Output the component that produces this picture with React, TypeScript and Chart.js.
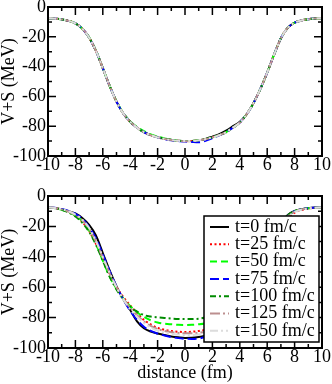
import React, { useEffect, useRef } from 'react';
import { Chart, registerables } from 'chart.js';

Chart.register(...registerables);

const FONT = '"Liberation Serif", "Times New Roman", serif';

// x positions (fm)
const distance = [
  -10, -9.5, -9, -8.5, -8, -7.5, -7, -6.5, -6, -5.5, -5, -4.5, -4, -3.5, -3, -2.5, -2, -1.5, -1, -0.5,
  0, 0.5, 1, 1.5, 2, 2.5, 3, 3.5, 4, 4.5, 5, 5.5, 6, 6.5, 7, 7.5, 8, 8.5, 9, 9.5, 10,
];

const seriesLabels = ['t=0 fm/c', 't=25 fm/c', 't=50 fm/c', 't=75 fm/c', 't=100 fm/c', 't=125 fm/c', 't=150 fm/c'];

// ---- top panel (MeV) ----
const topT0 = [-7.5, -7.8, -8.3, -9.3, -11, -14.5, -20.5, -29.5, -41, -53, -63.5, -71.5, -77, -81, -84, -86, -87.5, -88.5, -89.3, -89.8,
  -90, -89.9, -89.4, -88.5, -87, -85.3, -83, -80, -77, -72, -64.5, -55, -44, -32, -21, -14, -10.5, -9, -8.2, -7.7, -7.5];
const topT25 = [-7.5, -7.8, -8.3, -9.3, -11, -14.5, -20.5, -29.5, -41, -53, -63.5, -71.5, -77, -81, -84, -86, -87.5, -88.5, -89.3, -89.8,
  -90, -89.9, -89.4, -88.7, -87.5, -86, -84, -81, -77.5, -72, -64.5, -55, -44, -32, -21, -14, -10.5, -9, -8.2, -7.7, -7.5];
const topT50 = [-7.5, -7.8, -8.3, -9.3, -11, -14.5, -20.3, -29.3, -41, -53, -63.3, -71.3, -76.7, -80.5, -83.3, -85.5, -87, -88.2, -89.2, -89.7,
  -90, -89.9, -89.4, -88.7, -87.5, -86, -84, -81, -77.5, -72, -64.5, -55, -44, -32, -21, -14, -10.5, -9, -8.2, -7.7, -7.5];
const topT75 = [-7.4, -7.8, -8.3, -9.3, -11, -14.5, -20.5, -29.5, -41, -53, -63.5, -71.5, -77, -81, -84, -86, -87.5, -88.6, -89.5, -90,
  -90.3, -90.6, -90.8, -89.8, -88, -86.2, -84, -81, -77.5, -72, -64.5, -55, -44, -32, -21, -14, -10.5, -9, -8.2, -7.7, -7.5];
const topT100 = [-7.5, -7.8, -8.3, -9.3, -11, -14.5, -20.5, -29.5, -41, -53, -63.5, -71.5, -77, -81, -84, -86, -87.2, -88.3, -89, -89.7,
  -90, -89.9, -89.4, -88.7, -87.5, -86, -84, -81, -77.5, -72, -64.5, -55, -44, -32, -21, -14, -10.5, -9, -8.2, -7.7, -7.5];
const topT125 = [-7.5, -7.8, -8.3, -9.3, -11, -14.5, -20.5, -29.5, -41, -53, -63.5, -71.5, -77, -81, -84, -86, -87.5, -88.5, -89.3, -89.8,
  -90.1, -90, -89.5, -88.7, -87.5, -86, -84, -81, -77.5, -72, -64.5, -55, -44, -32, -21, -14, -10.5, -9, -8.2, -7.7, -7.5];
const topT150 = [-7.5, -7.8, -8.3, -9.3, -11, -14.5, -20.5, -29.5, -41, -53, -63.5, -71.5, -77, -81, -84, -86, -87.5, -88.5, -89.3, -89.8,
  -90, -89.9, -89.4, -88.7, -87.5, -86, -84, -81, -77.5, -72, -64.5, -55, -44, -32, -21, -14, -10.5, -9, -8.2, -7.7, -7.5];

// ---- bottom panel (MeV) ----
const botT0 = [-7.5, -7.9, -8.8, -10, -11.5, -14.5, -19, -26, -37.5, -49, -59.5, -68, -75, -82.5, -87, -89.2, -90.5, -91.5, -92.4, -93,
  -93.4, -93.3, -92.8, -92, -91, -89.5, -87, -83, -76, -68, -59, -48, -37, -26, -18.5, -12.5, -9.8, -8.7, -8, -7.6, -7.4];
const botT25 = [-7.5, -8, -9, -10.5, -13, -17, -23, -31.5, -41.5, -51.5, -60, -66.5, -72, -77, -81.5, -84.5, -86.8, -88, -88.8, -89.3,
  -89.5, -89.3, -88.8, -88, -86.5, -84, -81, -76.5, -71, -65, -58, -49.5, -39.5, -29.5, -21, -15, -11, -9.2, -8.3, -7.8, -7.5];
const botT50 = [-7.5, -8, -9, -10.5, -13, -16.5, -22.5, -31.5, -42.5, -53, -61, -67.5, -72.5, -76.5, -79.5, -81.8, -83.2, -84, -84.4, -84.7,
  -84.8, -84.7, -84.4, -83.8, -82.5, -80.5, -77.5, -73.5, -68.5, -62, -54.5, -45, -35, -25.5, -18, -13, -10, -8.8, -8.1, -7.7, -7.5];
const botT75 = [-7.4, -7.8, -8.6, -9.8, -11.8, -15, -20.5, -28, -38.5, -49.5, -59.5, -68, -75.5, -81.5, -86, -88.8, -90.5, -91.8, -92.8, -93.5,
  -93.9, -94, -93.7, -92.8, -91.3, -89, -86, -81.5, -75, -67, -58, -47.5, -36.5, -26, -18.5, -13, -10, -8.7, -8, -7.6, -7.4];
const botT100 = [-7.5, -8, -9, -10.8, -13.5, -17.5, -23.5, -32, -42.5, -53, -61.5, -68, -73, -76, -78.3, -79.3, -79.8, -80.2, -80.6, -80.9,
  -81, -81, -80.7, -80, -78.8, -77, -74.5, -71, -66, -59.5, -52, -43, -33.5, -24.5, -17.5, -12.8, -10, -8.7, -8, -7.7, -7.5];
const botT125 = [-7.5, -7.9, -8.8, -10.2, -12.5, -16, -21.5, -30, -40.5, -51, -60, -67.5, -73.5, -78.5, -82.5, -85.5, -87.5, -88.8, -89.6, -90.1,
  -90.3, -90.3, -90, -89.3, -88, -86, -83, -78.5, -72.5, -65.5, -57, -47, -36.5, -26.5, -19, -13.5, -10.3, -8.9, -8.1, -7.7, -7.5];
const botT150 = [-7.5, -7.9, -8.7, -10, -12.2, -15.5, -21, -29.5, -40, -50.5, -60, -68, -74.5, -79.5, -83.5, -86.5, -88.5, -89.8, -90.7, -91.2,
  -91.4, -91.4, -91.1, -90.4, -89, -87, -84, -79.5, -73.5, -66, -57.5, -47.5, -37, -27, -19.5, -14, -10.5, -9, -8.2, -7.7, -7.5];

const topSeries = [topT0, topT25, topT50, topT75, topT100, topT125, topT150];
const bottomSeries = [botT0, botT25, botT50, botT75, botT100, botT125, botT150];

const lineStyles = [
  { color: '#000000', dash: [] as number[] },
  { color: '#ff0000', dash: [2, 2.5] },
  { color: '#00ff00', dash: [7, 4] },
  { color: '#0000ff', dash: [9, 4] },
  { color: '#008b00', dash: [6, 3, 2, 3] },
  { color: '#bc8f8f', dash: [10, 3, 2, 3] },
  { color: '#dcdcdc', dash: [8, 3, 2, 3, 2, 3] },
];

const frameTicks = {
  id: 'frameTicks',
  afterDatasetsDraw(chart: any) {
    const { ctx, chartArea: ca, scales } = chart;
    const xs = scales.x;
    const ys = scales.y;
    ctx.save();
    ctx.strokeStyle = '#000';
    ctx.lineWidth = 1.5;
    ctx.setLineDash([]);
    ctx.beginPath();
    for (let v = -10; v <= 10; v += 1) {
      const px = xs.getPixelForValue(v);
      const len = v % 2 === 0 ? 8 : 4;
      ctx.moveTo(px, ca.bottom);
      ctx.lineTo(px, ca.bottom - len);
      ctx.moveTo(px, ca.top);
      ctx.lineTo(px, ca.top + len);
    }
    for (let v = -100; v <= 0; v += 10) {
      const py = ys.getPixelForValue(v);
      const len = v % 20 === 0 ? 8 : 4;
      ctx.moveTo(ca.left, py);
      ctx.lineTo(ca.left + len, py);
      ctx.moveTo(ca.right, py);
      ctx.lineTo(ca.right - len, py);
    }
    ctx.stroke();
    ctx.lineWidth = 2;
    ctx.strokeRect(ca.left, ca.top, ca.right - ca.left, ca.bottom - ca.top);
    ctx.restore();
  },
};

const insetLegend = {
  id: 'insetLegend',
  afterDatasetsDraw(chart: any) {
    const { ctx, chartArea: ca } = chart;
    const left = ca.right - 118;
    const top = ca.top + 20;
    const w = 115;
    const h = 126;
    ctx.save();
    ctx.fillStyle = '#ffffff';
    ctx.fillRect(left, top, w, h);
    ctx.setLineDash([]);
    ctx.lineWidth = 1.5;
    ctx.strokeStyle = '#000';
    ctx.strokeRect(left, top, w, h);
    chart.data.datasets.forEach((ds: any, i: number) => {
      const y = top + 11 + i * 17.3;
      ctx.beginPath();
      ctx.setLineDash(ds.borderDash || []);
      ctx.strokeStyle = ds.borderColor;
      ctx.lineWidth = ds.borderWidth;
      ctx.moveTo(left + 6, y);
      ctx.lineTo(left + 25, y);
      ctx.stroke();
      ctx.setLineDash([]);
      ctx.fillStyle = '#000';
      ctx.font = `18px ${FONT}`;
      ctx.textBaseline = 'middle';
      ctx.textAlign = 'left';
      ctx.fillText(ds.label, left + 31, y);
    });
    ctx.restore();
  },
};

function makeConfig(series: number[][], bottom: boolean): any {
  const datasets = series.map((vals, i) => ({
    label: seriesLabels[i],
    data: distance.map((x, j) => ({ x, y: vals[j] })),
    borderColor: lineStyles[i].color,
    borderDash: lineStyles[i].dash,
    borderWidth: 2,
    pointRadius: 0,
    fill: false,
    cubicInterpolationMode: 'monotone',
    order: series.length - i,
  }));
  return {
    type: 'line',
    data: { datasets },
    options: {
      animation: false,
      responsive: false,
      maintainAspectRatio: false,
      layout: { padding: { top: bottom ? 20 : 7, right: 10, left: 0, bottom: 0 } },
      plugins: { legend: { display: false }, tooltip: { enabled: false } },
      scales: {
        x: {
          type: 'linear',
          min: -10,
          max: 10,
          grid: { display: false, drawTicks: false },
          border: { display: false },
          ticks: {
            stepSize: 2,
            autoSkip: false,
            maxRotation: 0,
            padding: 0,
            color: '#000',
            font: { family: FONT, size: 18, lineHeight: 1 },
          },
          title: {
            display: bottom,
            text: 'distance (fm)',
            color: '#000',
            font: { family: FONT, size: 18, lineHeight: 1.2 },
            padding: { top: 0, bottom: 0 },
          },
          afterFit(s: any) {
            s.height = bottom ? 36 : 20;
            s.paddingLeft = 0;
            s.paddingRight = 0;
          },
        },
        y: {
          type: 'linear',
          min: -100,
          max: 0,
          grid: { display: false, drawTicks: false },
          border: { display: false },
          ticks: {
            stepSize: 20,
            padding: 2,
            color: '#000',
            font: { family: FONT, size: 18, lineHeight: 1 },
          },
          title: {
            display: true,
            text: 'V+S (MeV)',
            color: '#000',
            font: { family: FONT, size: 18, lineHeight: 1 },
            padding: { top: 0, bottom: 0 },
          },
          afterFit(s: any) {
            s.width = 48;
            s.paddingTop = 0;
            s.paddingBottom = 0;
          },
        },
      },
    },
    plugins: bottom ? [frameTicks, insetLegend] : [frameTicks],
  };
}

export default function App() {
  const topRef = useRef<HTMLCanvasElement | null>(null);
  const botRef = useRef<HTMLCanvasElement | null>(null);

  useEffect(() => {
    const c1 = new Chart(topRef.current as HTMLCanvasElement, makeConfig(topSeries, false));
    const c2 = new Chart(botRef.current as HTMLCanvasElement, makeConfig(bottomSeries, true));
    return () => {
      c1.destroy();
      c2.destroy();
    };
  }, []);

  return (
    <div style={{ position: 'absolute', left: 0, top: 0, width: 332, height: 384, background: '#fff' }}>
      <canvas ref={topRef} width={332} height={176} style={{ display: 'block', width: 332, height: 176 }} />
      <canvas ref={botRef} width={332} height={208} style={{ display: 'block', width: 332, height: 208 }} />
    </div>
  );
}
